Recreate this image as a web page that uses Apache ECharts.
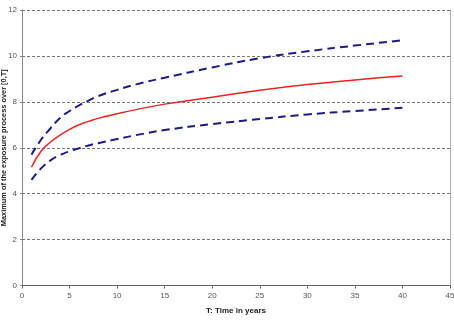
<!DOCTYPE html>
<html>
<head>
<meta charset="utf-8">
<script src="https://cdn.jsdelivr.net/npm/echarts@6/dist/echarts.min.js"></script>
<style>
html,body{margin:0;padding:0;background:#fff;}
#chart{width:454px;height:320px;}
</style>
</head>
<body>
<div id="chart"></div>
<script>
var years = [1, 2, 3, 4, 5, 6, 7, 8, 10, 12, 15, 20, 25, 30, 35, 40];
var meanMax = [5.15, 5.85, 6.25, 6.55, 6.8, 7.0, 7.15, 7.28, 7.48, 7.66, 7.9, 8.2, 8.5, 8.75, 8.95, 9.12];
var upperBand = [5.7, 6.35, 6.85, 7.3, 7.6, 7.85, 8.05, 8.25, 8.52, 8.76, 9.05, 9.5, 9.9, 10.2, 10.45, 10.68];
var lowerBand = [4.6, 5.1, 5.45, 5.68, 5.85, 5.98, 6.1, 6.2, 6.38, 6.55, 6.77, 7.03, 7.25, 7.45, 7.6, 7.74];
var xTitle = 'T: Time in years';
var yTitle = 'Maximum of the exposure process over [0,T]';

function pairs(xs, ys) { return xs.map(function (x, i) { return [x, ys[i]]; }); }

var chart = echarts.init(document.getElementById('chart'), null, { renderer: 'canvas' });
var font = 'Liberation Sans, Arial, sans-serif';
chart.setOption({
  animation: false,
  backgroundColor: '#ffffff',
  grid: { left: 22, right: 4, top: 10, bottom: 34.5, containLabel: false, outerBoundsMode: 'none' },
  xAxis: {
    type: 'value', min: 0, max: 45, interval: 5,
    name: xTitle, nameLocation: 'middle', nameGap: 21, nameMoveOverlap: false,
    nameTextStyle: { fontFamily: font, fontSize: 8, fontWeight: 'bold', color: '#222' },
    axisLine: { lineStyle: { color: '#666', width: 1 } },
    axisTick: { show: true, length: 3, lineStyle: { color: '#666' } },
    axisLabel: { fontFamily: font, fontSize: 8, color: '#555', margin: 6 },
    splitLine: { show: false }
  },
  yAxis: [{
    type: 'value', min: 0, max: 12, interval: 2,
    name: yTitle, nameLocation: 'middle', nameGap: 15, nameRotate: 90, nameMoveOverlap: false,
    nameTextStyle: { fontFamily: font, fontSize: 7.4, fontWeight: 'bold', color: '#222' },
    axisLine: { show: true, lineStyle: { color: '#888', width: 1 } },
    axisTick: { show: true, length: 2, lineStyle: { color: '#888' } },
    axisLabel: { fontFamily: font, fontSize: 8, color: '#555', margin: 5 },
    splitLine: { show: true, lineStyle: { color: '#777', type: [3, 2], width: 1 } }
  }, {
    type: 'value', min: 0, max: 12, interval: 2, position: 'right',
    axisLine: { show: true, lineStyle: { color: '#aaa', width: 1 } },
    axisTick: { show: false }, axisLabel: { show: false }, splitLine: { show: false }
  }],
  series: [{
    type: 'line', name: 'upper', data: pairs(years, upperBand), smooth: 0.5,
    showSymbol: false, lineStyle: { color: '#1c1c84', width: 2, type: [8, 5] }
  }, {
    type: 'line', name: 'mean', data: pairs(years, meanMax), smooth: 0.5,
    showSymbol: false, lineStyle: { color: '#ee2222', width: 1.5 }
  }, {
    type: 'line', name: 'lower', data: pairs(years, lowerBand), smooth: 0.5,
    showSymbol: false, lineStyle: { color: '#1c1c84', width: 2, type: [8, 5] }
  }]
});
</script>
</body>
</html>
